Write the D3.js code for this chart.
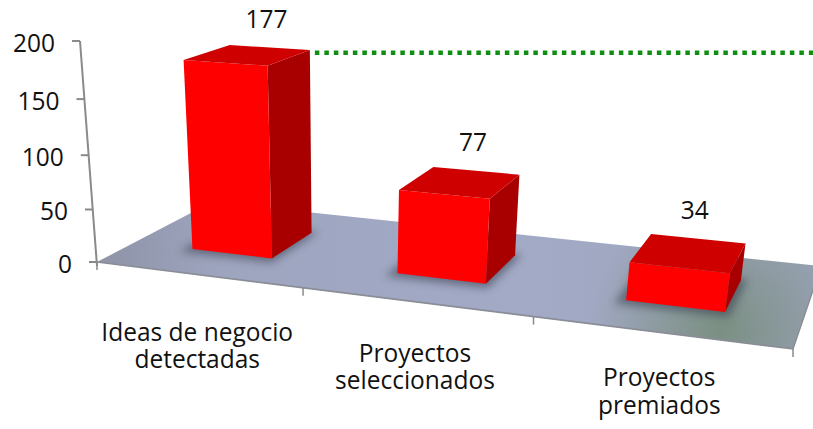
<!DOCTYPE html>
<html>
<head>
<meta charset="utf-8">
<script src="https://cdn.jsdelivr.net/npm/d3@7/dist/d3.min.js"></script>
<style>
  html, body { margin: 0; padding: 0; background: #ffffff; }
  svg { display: block; }
  text { font-family: "Open Sans", "Noto Sans", sans-serif; fill: #111; }
</style>
</head>
<body>
<svg id="chart" width="813" height="429"></svg>
<script>
// ---------- data ----------
const categories = ["Ideas de negocio detectadas", "Proyectos seleccionados", "Proyectos premiados"];
const categoryLines = [["Ideas de negocio", "detectadas"], ["Proyectos", "seleccionados"], ["Proyectos", "premiados"]];
const values = [177, 77, 34];
const yTicks = [0, 50, 100, 150, 200];
const yMax = 200;
const target = 190;

// ---------- layout ----------
const W = 813, H = 429;
const svg = d3.select("#chart");
const FONT = 24.5, STRETCH = 1.05;

// world: u along categories [0,1], v depth [0 front,1 back], h = scaled value [0,1]
const xBand = d3.scaleBand().domain(categories).range([0, 1]).paddingInner(0.6).paddingOuter(0.3);
const zBand = d3.scaleBand().domain(["serie"]).range([0, 1]).paddingInner(0.6).paddingOuter(0.3);
const yScale = d3.scaleLinear().domain([0, yMax]).range([0, 1]);

// perspective camera (projective matrix)
const M = [
  [569.91, 146.8, -22.19, 97],
  [31.51, -29.7, -223.66, 262],
  [-0.159, 0.15, -0.0649, 1]
];
function proj(u, v, t) {
  const h = yScale(t);
  const X = M[0][0]*u + M[0][1]*v + M[0][2]*h + M[0][3];
  const Y = M[1][0]*u + M[1][1]*v + M[1][2]*h + M[1][3];
  const Z = M[2][0]*u + M[2][1]*v + M[2][2]*h + M[2][3];
  return [X / Z, Y / Z];
}
const poly = d3.line().curve(d3.curveLinearClosed);

const defs = svg.append("defs");
const fg = defs.append("linearGradient").attr("id", "floorGrad")
  .attr("gradientUnits", "userSpaceOnUse").attr("x1", 97).attr("y1", 0).attr("x2", 813).attr("y2", 0);
[[0, "#8e93a6"], [0.18, "#9ea5bf"], [0.6, "#a3aac6"], [1, "#9aa3b8"]].forEach(s =>
  fg.append("stop").attr("offset", s[0]).attr("stop-color", s[1]));
const rg = defs.append("radialGradient").attr("id", "floorTint")
  .attr("gradientUnits", "userSpaceOnUse").attr("cx", 720).attr("cy", 330).attr("r", 130);
rg.append("stop").attr("offset", 0).attr("stop-color", "#5f7d52").attr("stop-opacity", 0.55);
rg.append("stop").attr("offset", 1).attr("stop-color", "#5f7d52").attr("stop-opacity", 0);
defs.append("filter").attr("id", "blur").attr("x", "-50%").attr("y", "-50%").attr("width", "200%").attr("height", "200%")
  .append("feGaussianBlur").attr("stdDeviation", 4);

// ---------- floor ----------
const floorPts = [proj(0, 0, 0), proj(1, 0, 0), proj(1, 1, 0), proj(0, 1, 0)];
svg.append("path").attr("d", poly(floorPts)).attr("fill", "url(#floorGrad)");
svg.append("path").attr("d", poly(floorPts)).attr("fill", "url(#floorTint)");
svg.append("path").attr("d", d3.line()([proj(0, 0, 0), proj(1, 0, 0), proj(1, 1, 0)]))
  .attr("fill", "none").attr("stroke", "#8a8d96").attr("stroke-width", 1.5);

// category boundary ticks on the front edge
d3.range(categories.length + 1).forEach(i => {
  const q = proj(Math.min(1, i * xBand.step()), 0, 0);
  svg.append("line").attr("x1", q[0]).attr("y1", q[1]).attr("x2", q[0]).attr("y2", q[1] + 8)
    .attr("stroke", "#8a8a8a").attr("stroke-width", 1.5);
});

// ---------- bars ----------
const v0 = zBand("serie"), v1 = v0 + zBand.bandwidth();
categories.forEach((c, i) => {
  const u0 = xBand(c), u1 = u0 + xBand.bandwidth(), t = values[i];
  svg.append("path")
    .attr("d", poly([proj(u0 - 0.012, v0 - 0.05, 0), proj(u1 + 0.008, v0 - 0.05, 0), proj(u1 + 0.008, v1 + 0.02, 0), proj(u0 - 0.012, v1 + 0.02, 0)]))
    .attr("fill", "#3a4050").attr("opacity", 0.6).attr("filter", "url(#blur)");
  const g = svg.append("g");
  g.append("path").attr("d", poly([proj(u1, v0, 0), proj(u1, v1, 0), proj(u1, v1, t), proj(u1, v0, t)]))
    .attr("fill", "#a80000");
  g.append("path").attr("d", poly([proj(u0, v0, 0), proj(u1, v0, 0), proj(u1, v0, t), proj(u0, v0, t)]))
    .attr("fill", "#ff0000");
  g.append("path").attr("d", poly([proj(u0, v0, t), proj(u1, v0, t), proj(u1, v1, t), proj(u0, v1, t)]))
    .attr("fill", "#cf0000");
});

// ---------- target dotted line ----------
{
  const c0 = categories[0];
  const corner = proj(xBand(c0) + xBand.bandwidth(), v1, values[0]);
  const ty = proj(0, 0, target)[1];
  svg.append("line").attr("x1", corner[0] + 5).attr("x2", W).attr("y1", ty).attr("y2", ty)
    .attr("stroke", "#0f8f12").attr("stroke-width", 4.5).attr("stroke-dasharray", "4.5,5");
}

// ---------- value axis ----------
function addText(x, y, lines, anchor) {
  const t = svg.append("text").attr("transform", `translate(${x},${y}) scale(1,${STRETCH})`)
    .attr("text-anchor", anchor).attr("font-size", FONT);
  [].concat(lines).forEach((s, j) => t.append("tspan").attr("x", 0).attr("y", j * 26).text(s));
}
const a0 = proj(0, 0, 0), a1 = proj(0, 0, yMax);
svg.append("line").attr("x1", a0[0]).attr("y1", a0[1] + 4).attr("x2", a1[0]).attr("y2", a1[1])
  .attr("stroke", "#8a8a8a").attr("stroke-width", 2);
yTicks.forEach(t => {
  const p = proj(0, 0, t);
  svg.append("line").attr("x1", p[0] - 8).attr("x2", p[0]).attr("y1", p[1]).attr("y2", p[1])
    .attr("stroke", "#8a8a8a").attr("stroke-width", 2);
  addText(p[0] - 25, p[1] + 11, d3.format("d")(t), "end");
});

// ---------- value labels ----------
categories.forEach((c, i) => {
  const p = proj(xBand(c) + xBand.bandwidth() / 2, v1, values[i]);
  addText(p[0] - 3, p[1] - 20, String(values[i]), "middle");
});

// ---------- category labels ----------
categories.forEach((c, i) => {
  const p = proj((i + 0.5) * xBand.step(), 0, 0);
  addText(p[0], p[1] + 66 - 6 * i, categoryLines[i], "middle");
});
</script>
</body>
</html>
